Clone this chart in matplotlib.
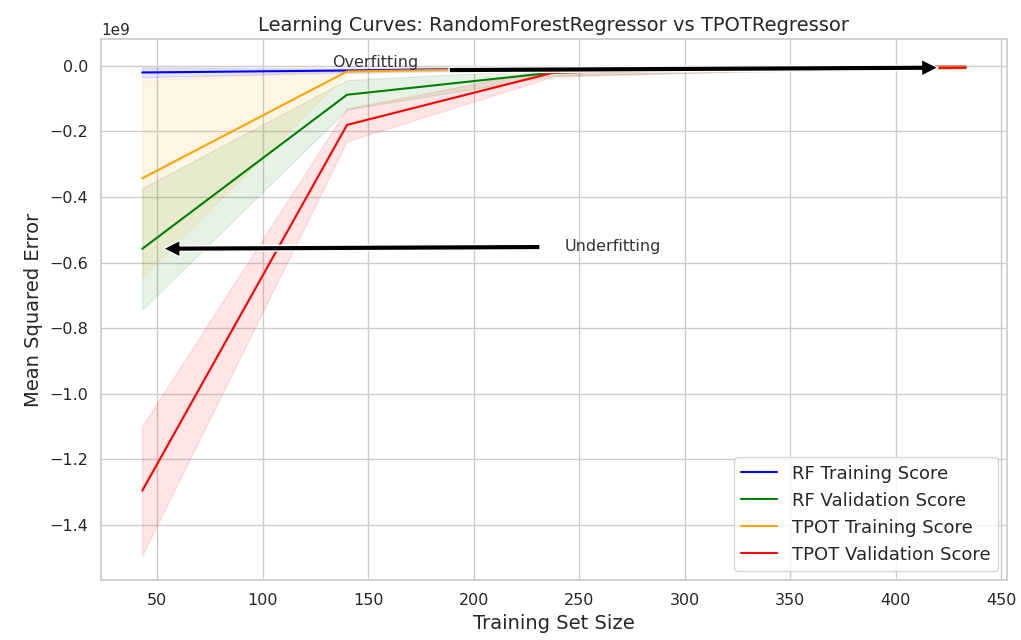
import numpy as np
import matplotlib
matplotlib.use("Agg")
from matplotlib import pyplot as plt
import seaborn as sns

sns.set_theme(style="whitegrid")

# training set sizes
train_sizes = np.array([43, 140, 238, 335, 433])

# mean / std of negative MSE (units of 1e9)
rf_train_mean = np.array([-0.020, -0.014, -0.006, -0.003, -0.002]) * 1e9
rf_train_std = np.array([0.015, 0.006, 0.003, 0.002, 0.001]) * 1e9
rf_val_mean = np.array([-0.558, -0.088, -0.020, -0.010, -0.005]) * 1e9
rf_val_std = np.array([0.185, 0.045, 0.010, 0.006, 0.003]) * 1e9
tpot_train_mean = np.array([-0.343, -0.017, -0.006, -0.003, -0.002]) * 1e9
tpot_train_std = np.array([0.300, 0.006, 0.003, 0.002, 0.001]) * 1e9
tpot_val_mean = np.array([-1.296, -0.180, -0.020, -0.010, -0.005]) * 1e9
tpot_val_std = np.array([0.197, 0.050, 0.012, 0.006, 0.003]) * 1e9

fig, ax = plt.subplots(figsize=(10.21, 6.4), dpi=100)
fig.subplots_adjust(left=0.099, right=0.986, top=0.939, bottom=0.094)

series = [
    (rf_train_mean, rf_train_std, "blue", "RF Training Score"),
    (rf_val_mean, rf_val_std, "green", "RF Validation Score"),
    (tpot_train_mean, tpot_train_std, "orange", "TPOT Training Score"),
    (tpot_val_mean, tpot_val_std, "red", "TPOT Validation Score"),
]
for mean, std, c, lab in series:
    ax.plot(train_sizes, mean, color=c, label=lab, lw=1.5)
    ax.fill_between(train_sizes, mean - std, mean + std, color=c, alpha=0.1)

ax.annotate("Overfitting", xy=(train_sizes[-1], tpot_val_mean[-1]),
            xytext=(133, -0.004e9), fontsize=11.5, color='0.2',
            arrowprops=dict(facecolor='black', shrink=0.05))
ax.annotate("Underfitting", xy=(train_sizes[0], rf_val_mean[0]),
            xytext=(243, -0.566e9), fontsize=11.5, color='0.2',
            arrowprops=dict(facecolor='black', shrink=0.05))

ax.set_ylim(-1.568e9, 0.082e9)
ax.set_title("Learning Curves: RandomForestRegressor vs TPOTRegressor", fontsize=14)
ax.set_xlabel("Training Set Size", fontsize=14)
ax.set_ylabel("Mean Squared Error", fontsize=14)
ax.tick_params(labelsize=11.5)
ax.legend(loc="lower right", fontsize=13)

fig.savefig("out.png")
